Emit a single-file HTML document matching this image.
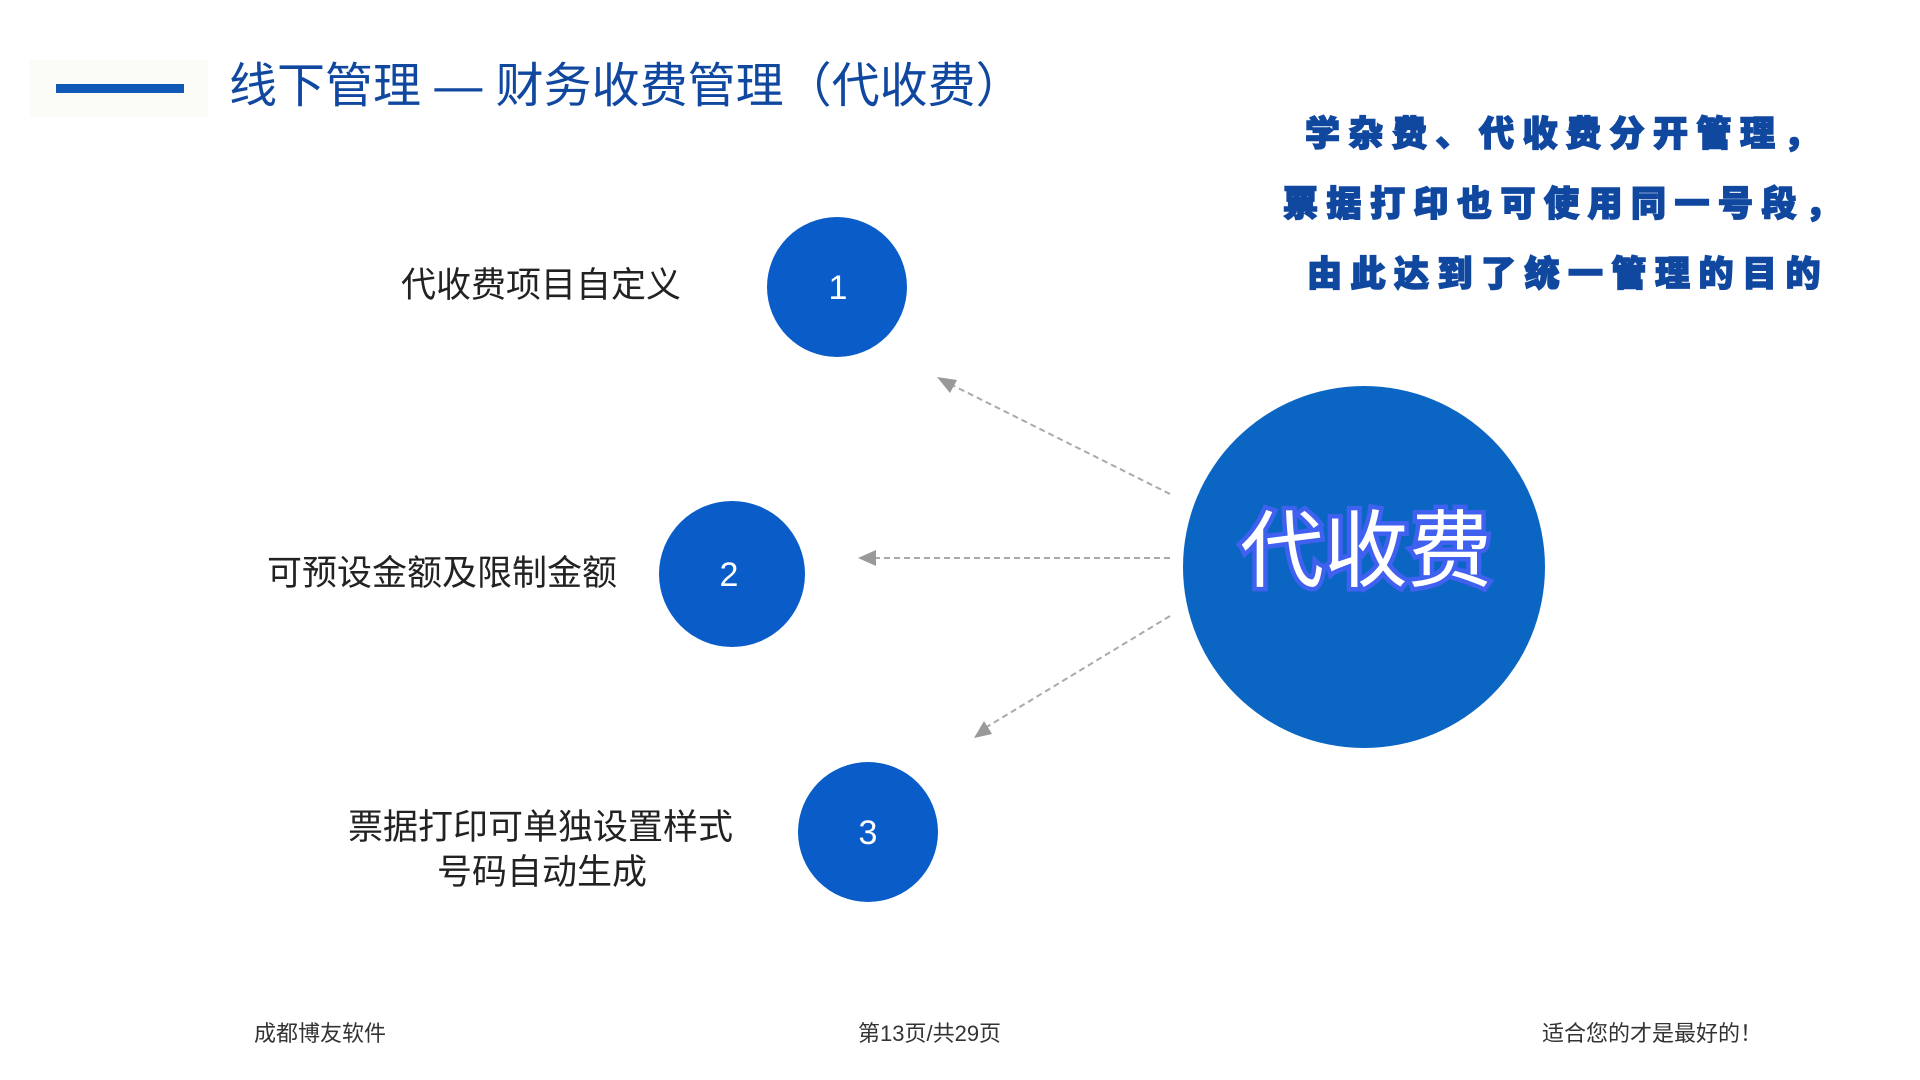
<!DOCTYPE html>
<html><head><meta charset="utf-8"><style>
body{margin:0;width:1920px;height:1080px;background:#fff;position:relative;overflow:hidden;font-family:"Liberation Sans","Noto Sans CJK SC",sans-serif}
.a{position:absolute;white-space:nowrap}
.lab{font-size:35px;color:#222;line-height:1}
.rt{font-size:35px;font-weight:900;color:#1048a0;letter-spacing:8.5px;line-height:1;-webkit-text-stroke:1.5px #1048a0}
.ft{font-size:22px;color:#333;line-height:1}
</style></head><body>
<div class="a" style="left:30px;top:60px;width:178px;height:57px;background:#fbfbf8"></div>
<div class="a" style="left:56px;top:84px;width:128px;height:9px;background:#1058b8"></div>
<div class="a" style="left:229px;top:63px;font-size:48px;color:#1048a0;line-height:1">线下管理 — 财务收费管理（代收费）</div>

<svg class="a" style="left:0;top:0" width="1920" height="1080">
<g stroke="#aaa" stroke-width="2" stroke-dasharray="6,4" fill="none">
<line x1="1170" y1="494" x2="948" y2="383"/>
<line x1="1170" y1="558" x2="870" y2="558"/>
<line x1="1170" y1="616" x2="985" y2="728"/>
</g>
<g fill="#999">
<polygon points="937,377 957,380 950,393"/>
<polygon points="858,558 876,550 876,566"/>
<polygon points="974,738 984,721 992,734"/>
</g>
<circle cx="837" cy="287" r="70" fill="#0a5cc8"/>
<circle cx="732" cy="574" r="73" fill="#0a5cc8"/>
<circle cx="868" cy="832" r="70" fill="#0a5cc8"/>
<circle cx="1364" cy="567" r="181" fill="#0b66c3"/>
<g font-family="Liberation Sans, sans-serif" font-size="34" fill="#fff" text-anchor="middle">
<text x="838" y="299">1</text><text x="729" y="586">2</text><text x="868" y="844">3</text>
</g>
<text x="1366" y="580" text-anchor="middle" font-family="Liberation Sans, Noto Sans CJK SC, sans-serif" font-size="84" fill="#fff" stroke="#4060f0" stroke-width="9" paint-order="stroke">代收费</text>
</svg>

<div class="a lab" style="left:401px;top:268px">代收费项目自定义</div>
<div class="a lab" style="left:267px;top:556px">可预设金额及限制金额</div>
<div class="a lab" style="left:348px;top:810px">票据打印可单独设置样式</div>
<div class="a lab" style="left:437px;top:855px">号码自动生成</div>

<div class="a rt" style="left:1305px;top:117px">学杂费、代收费分开管理，</div>
<div class="a rt" style="left:1283px;top:187px">票据打印也可使用同一号段，</div>
<div class="a rt" style="left:1307px;top:257px">由此达到了统一管理的目的</div>

<div class="a ft" style="left:254px;top:1023px">成都博友软件</div>
<div class="a ft" style="left:858px;top:1023px">第13页/共29页</div>
<div class="a ft" style="left:1542px;top:1023px">适合您的才是最好的！</div>
</body></html>
